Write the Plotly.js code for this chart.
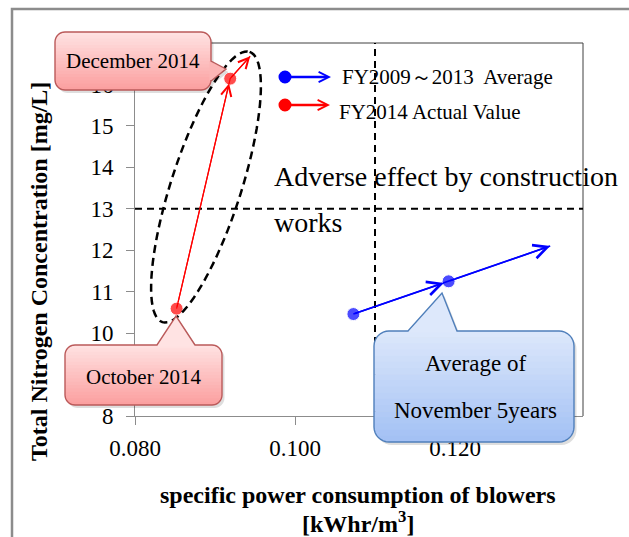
<!DOCTYPE html>
<html><head><meta charset="utf-8">
<script src="https://cdn.plot.ly/plotly-3.0.1.min.js"></script>
<style>html,body{margin:0;padding:0;background:#fff;}#chart{width:629px;height:537px;}</style>
</head><body><div id="chart"></div>
<script>
// ---- data ----
const avgLabel = "FY2009～2013  Average";
const actLabel = "FY2014 Actual Value";
const avgX = [0.1073, 0.1192, 0.1319];
const avgY = [10.46, 11.25, 12.10];
const actX = [0.0852, 0.0919, 0.0944];
const actY = [10.59, 16.14, 16.68];
const xTicks = [0.080, 0.100, 0.120];
const yTicks = [8, 10, 11, 12, 13, 14, 15, 16];
const thresholdX = 0.110;
const thresholdY = 13;
const xRange = [0.080, 0.136];
const yRange = [8, 17];

// ---- geometry helpers (pixel -> paper) ----
const L = 135, R = 583, T = 43, B = 416;
const px = x => (x - L) / (R - L);
const py = y => (B - y) / (B - T);
const pathFrom = pts => 'M' + pts.map(p => px(p[0]).toFixed(5) + ',' + py(p[1]).toFixed(5)).join('L') + 'Z';
const SERIF = 'Liberation Serif, Times New Roman, serif';

function hex2rgb(h){return [parseInt(h.substr(1,2),16),parseInt(h.substr(3,2),16),parseInt(h.substr(5,2),16)];}
function lerpCol(a,b,t){const A=hex2rgb(a),Bc=hex2rgb(b);return 'rgb('+A.map((v,i)=>Math.round(v+(Bc[i]-v)*t)).join(',')+')';}

function calloutPts(c){
  const {x0,y0,x1,y1,r,side,b1,b2,tip}=c; const pts=[];
  const arc=(cx,cy,a0,a1)=>{for(let k=0;k<=8;k++){const a=(a0+(a1-a0)*k/8)*Math.PI/180;pts.push([cx+r*Math.cos(a),cy+r*Math.sin(a)]);}};
  arc(x0+r,y0+r,180,270);
  if(side==='top'){pts.push([b1,y0],tip,[b2,y0]);}
  arc(x1-r,y0+r,270,360);
  if(side==='right'){pts.push([x1,b1],tip,[x1,b2]);}
  arc(x1-r,y1-r,0,90);
  arc(x0+r,y1-r,90,180);
  return pts;
}
function calloutShapes(c){
  const out=[];
  const base={type:'path',xref:'paper',yref:'paper',layer:'above'};
  out.push(Object.assign({},base,{path:pathFrom(calloutPts(c).map(p=>[p[0]+2.5,p[1]+3])),fillcolor:'rgba(0,0,0,0.13)',line:{width:0}}));
  const {x0,y0,x1,y1,r}=c; const N=18;
  const inset=y=>{if(y<y0+r){const d=y0+r-y;return r-Math.sqrt(Math.max(0,r*r-d*d));} if(y>y1-r){const d=y-(y1-r);return r-Math.sqrt(Math.max(0,r*r-d*d));} return 0;};
  for(let s=0;s<N;s++){
    const ya=y0+(y1-y0)*s/N, yb=Math.min(y1,y0+(y1-y0)*(s+1)/N+0.7);
    const left=[],right=[];
    for(let k=0;k<=6;k++){const y=ya+(yb-ya)*k/6;const d=inset(y);left.push([x0+d,y]);right.push([x1-d,y]);}
    out.push(Object.assign({},base,{path:pathFrom(left.concat(right.reverse())),fillcolor:lerpCol(c.top,c.bot,(s+0.5)/N),line:{width:0}}));
  }
  if(c.side==='top'){
    out.push(Object.assign({},base,{path:pathFrom([[c.b1,y0+1.5],c.tip,[c.b2,y0+1.5]]),fillcolor:c.top,line:{width:0}}));
  } else {
    const t=((c.b1+c.b2)/2-y0)/(y1-y0);
    out.push(Object.assign({},base,{path:pathFrom([[x1-1.5,c.b1],c.tip,[x1-1.5,c.b2]]),fillcolor:lerpCol(c.top,c.bot,t),line:{width:0}}));
  }
  out.push(Object.assign({},base,{path:pathFrom(calloutPts(c)),fillcolor:'rgba(0,0,0,0)',line:{color:c.border,width:1.4}}));
  return out;
}

const callDec={x0:55,y0:32,x1:211,y1:90,r:10,side:'right',b1:61,b2:81,tip:[226,69],top:'#ffe3e3',bot:'#fb9e9e',border:'#bb5a5a'};
const callOct={x0:65,y0:345,x1:222,y1:405,r:10,side:'top',b1:157,b2:195,tip:[176,316],top:'#ffe3e3',bot:'#fb9e9e',border:'#bb5a5a'};
const callAvg={x0:374,y0:331,x1:574,y1:442,r:15,side:'top',b1:408,b2:457,tip:[442,293],top:'#dde8fb',bot:'#a2c0f4',border:'#4f7fbb'};

function ellipsePts(){
  const cx=206,cy=187,a=142,b=35,th=17.9*Math.PI/180;
  const d=[Math.sin(th),-Math.cos(th)], n=[Math.cos(th),Math.sin(th)];
  const pts=[];
  for(let k=0;k<=90;k++){const t=2*Math.PI*k/90;const u=a*Math.cos(t),v=b*Math.sin(t);pts.push([cx+u*d[0]+v*n[0],cy+u*d[1]+v*n[1]]);}
  return pts;
}

const shapes=[
  {type:'path',xref:'paper',yref:'paper',layer:'above',path:'M'+px(12)+','+py(560)+'L'+px(12)+','+py(9)+'L'+px(660)+','+py(9),line:{color:'#8c8c8c',width:2.5}},
  {type:'line',xref:'paper',yref:'paper',x0:0,x1:1,y0:1,y1:1,line:{color:'#404040',width:1}},
  {type:'line',xref:'paper',yref:'paper',x0:1,x1:1,y0:0,y1:1,line:{color:'#404040',width:1}},
  {type:'line',xref:'x',yref:'paper',x0:thresholdX,x1:thresholdX,y0:0,y1:1,layer:'above',line:{color:'#000',width:2,dash:'7px,5px'}},
  {type:'line',xref:'paper',yref:'y',x0:0,x1:1,y0:thresholdY,y1:thresholdY,layer:'above',line:{color:'#000',width:2,dash:'7px,5px'}},
  {type:'path',xref:'paper',yref:'paper',layer:'above',path:pathFrom(ellipsePts()),fillcolor:'rgba(0,0,0,0)',line:{color:'#000',width:2.5,dash:'8px,5px'}},
  {type:'circle',xref:'paper',yref:'paper',layer:'above',x0:px(278.5),x1:px(291.5),y0:py(83.5),y1:py(70.5),fillcolor:'#0000ff',line:{width:0}},
  {type:'circle',xref:'paper',yref:'paper',layer:'above',x0:px(278.5),x1:px(291.5),y0:py(111.5),y1:py(98.5),fillcolor:'#ff0000',line:{width:0}},
].concat(calloutShapes(callDec),calloutShapes(callOct),calloutShapes(callAvg));

function segArrows(xs,ys,color,w){
  const a=[];
  for(let i=0;i<xs.length-1;i++){
    a.push({x:xs[i+1],y:ys[i+1],ax:xs[i],ay:ys[i],xref:'x',yref:'y',axref:'x',ayref:'y',text:' ',showarrow:true,
      arrowhead:5,arrowsize:1.7,arrowwidth:w,arrowcolor:color,standoff:(i+1<xs.length-1)?5:0,font:{size:1}});
  }
  return a;
}
const txt=(t,x,y,size,opts)=>Object.assign({text:t,xref:'paper',yref:'paper',x:px(x),y:py(y),showarrow:false,xanchor:'center',yanchor:'middle',font:{family:SERIF,size:size,color:'#000'}},opts||{});

const annotations=[].concat(
  segArrows(actX,actY,'#ff0000',1.2),
  segArrows(avgX,avgY,'#0000ff',1.6),
  [
    {xref:'paper',yref:'paper',x:px(331),y:py(77),ax:-46,ay:0,text:' ',font:{size:1},showarrow:true,arrowhead:5,arrowsize:0.8,arrowwidth:2.5,arrowcolor:'#0000ff'},
    {xref:'paper',yref:'paper',x:px(330),y:py(105),ax:-45,ay:0,text:' ',font:{size:1},showarrow:true,arrowhead:5,arrowsize:0.8,arrowwidth:2.5,arrowcolor:'#ff0000'},
    txt(avgLabel,340,77,21,{xanchor:'left'}),
    txt(actLabel,337,112,21,{xanchor:'left'}),
    txt('Adverse effect by construction',272,176,28,{xanchor:'left'}),
    txt('works',272,222,28,{xanchor:'left'}),
    txt('December 2014',133,61,21),
    txt('October 2014',143,377,21),
    txt('Average of',475,363,23),
    txt('November 5years',475,410,23),
    txt('<b>specific power consumption of blowers</b>',358,495,24),
    txt('<b>[kWhr/m<sup>3</sup>]</b>',358,522,24),
    txt('<b>Total Nitrogen Concentration [mg/L]</b>',39,272,24,{textangle:-90}),
  ]
);

const traces=[
  {type:'scatter',mode:'lines+markers',name:avgLabel,x:avgX,y:avgY,line:{color:'#0000ff',width:1.6},marker:{color:'#0000ff',size:[13,13,0]},cliponaxis:false},
  {type:'scatter',mode:'lines+markers',name:actLabel,x:actX,y:actY,line:{color:'#ff0000',width:1.2},marker:{color:'#ff0000',size:[13,13,0]},cliponaxis:false},
];

const axisCommon={showgrid:false,zeroline:false,showline:true,linecolor:'#8c8c8c',linewidth:1,ticks:'outside',ticklen:8,tickcolor:'#8c8c8c',tickfont:{family:SERIF,size:23,color:'#000'}};
const layout={
  width:629,height:537,margin:{l:L,r:629-R,t:T,b:537-B},
  paper_bgcolor:'#fff',plot_bgcolor:'#fff',showlegend:false,
  font:{family:SERIF,color:'#000'},
  xaxis:Object.assign({},axisCommon,{range:xRange,tickvals:xTicks,ticktext:xTicks.map(v=>v.toFixed(3)),ticklabelstandoff:3}),
  yaxis:Object.assign({},axisCommon,{range:yRange,tickvals:yTicks,ticktext:yTicks.map(String),ticklabelstandoff:8}),
  shapes:shapes,annotations:annotations
};
Plotly.newPlot('chart',traces,layout,{displayModeBar:false,staticPlot:true});
</script></body></html>
